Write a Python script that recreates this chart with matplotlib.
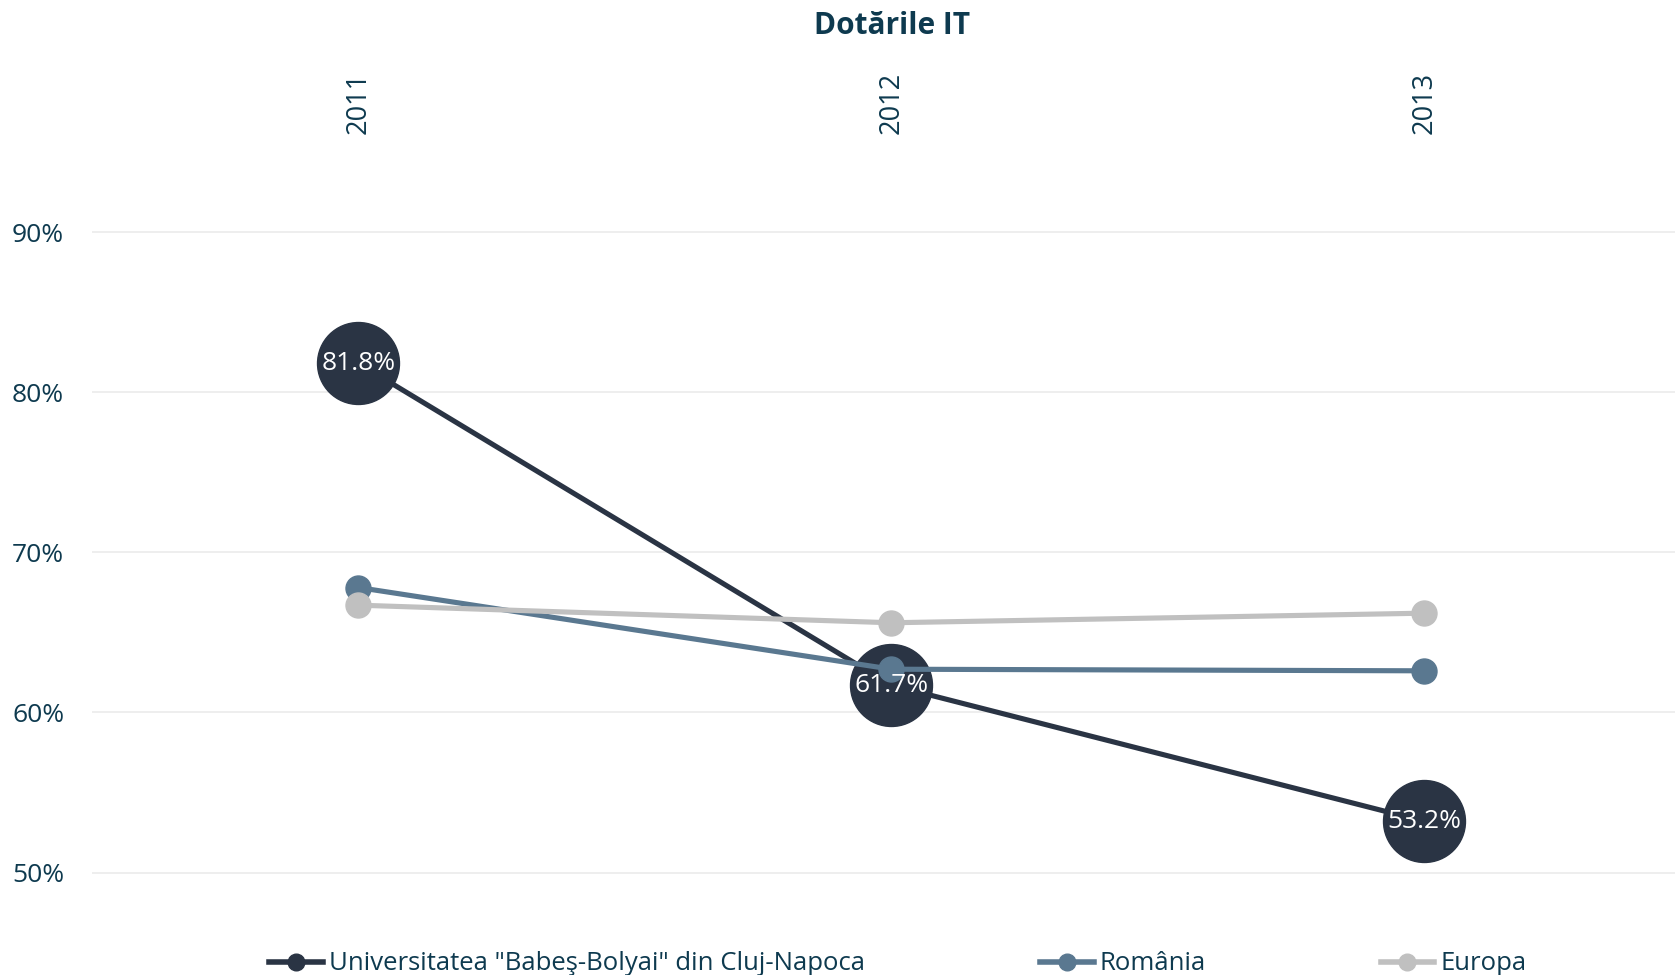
import matplotlib
matplotlib.use("Agg")
import matplotlib.pyplot as plt
from matplotlib import font_manager
from matplotlib.lines import Line2D

years = ["2011", "2012", "2013"]
ubb = [81.8, 61.7, 53.2]
romania = [67.8, 62.7, 62.6]
europa = [66.7, 65.6, 66.2]
series_names = ['Universitatea "Babeş-Bolyai" din Cluj-Napoca', "România", "Europa"]
yticks = [50, 60, 70, 80, 90]

names = {f.name for f in font_manager.fontManager.ttflist}
base_font = "Open Sans" if "Open Sans" in names else "DejaVu Sans"
plt.rcParams["font.family"] = [base_font, "DejaVu Sans"]

txt = "#0E3A4F"
c_ubb = "#2A3444"
c_ro = "#5A7890"
c_eu = "#C0C0C0"

fig = plt.figure(figsize=(16.75, 9.75), dpi=100)
ax = fig.add_axes([92 / 1675, 1 - 904.6 / 975, 1 - 92 / 1675, 752.6 / 975])
ax.set_ylim(48, 95)
ax.set_xlim(-0.5, 2.47)

x = list(range(len(years)))
ax.plot(x, ubb, color=c_ubb, lw=3.7, zorder=3)
ax.plot(x, ubb, "o", color=c_ubb, ms=59, zorder=3)
ax.plot(x, romania, color=c_ro, lw=3.7, marker="o", ms=18, zorder=4)
ax.plot(x, europa, color=c_eu, lw=3.7, marker="o", ms=18, zorder=5)
for xi, v in zip(x, ubb):
    ax.text(xi, v, f"{v:.1f}%", color="white", ha="center", va="center",
            fontsize=19, zorder=6)

ax.set_yticks(yticks)
ax.set_yticklabels([f"{t}%" for t in yticks])
ax.yaxis.grid(True, color="#EBEBEB", lw=1.2)
ax.set_axisbelow(True)
ax.tick_params(axis="y", length=0, pad=20, labelsize=19, labelcolor=txt)
ax.xaxis.tick_top()
ax.set_xticks(x)
ax.set_xticklabels(years, rotation=90)
ax.tick_params(axis="x", length=0, pad=13, labelsize=19.5, labelcolor=txt)
for s in ax.spines.values():
    s.set_visible(False)

fig.text(0.5325, 1 - 26 / 975, "Dotările IT", ha="center", va="center",
         fontsize=21.5, fontweight="bold", color=txt)

handles = [Line2D([], [], color=c, lw=4, marker="o", ms=12)
           for c in (c_ubb, c_ro, c_eu)]
leg = fig.legend(handles, series_names, loc="center", ncol=3,
                 bbox_to_anchor=(0.536, 1 - 964 / 975), frameon=False,
                 prop={"size": 18.5},
                 handlelength=2.1, handletextpad=0.23, columnspacing=6.8,
                 borderaxespad=0)
for t in leg.get_texts():
    t.set_color(txt)

fig.savefig("out.png", dpi=100, facecolor="white")
